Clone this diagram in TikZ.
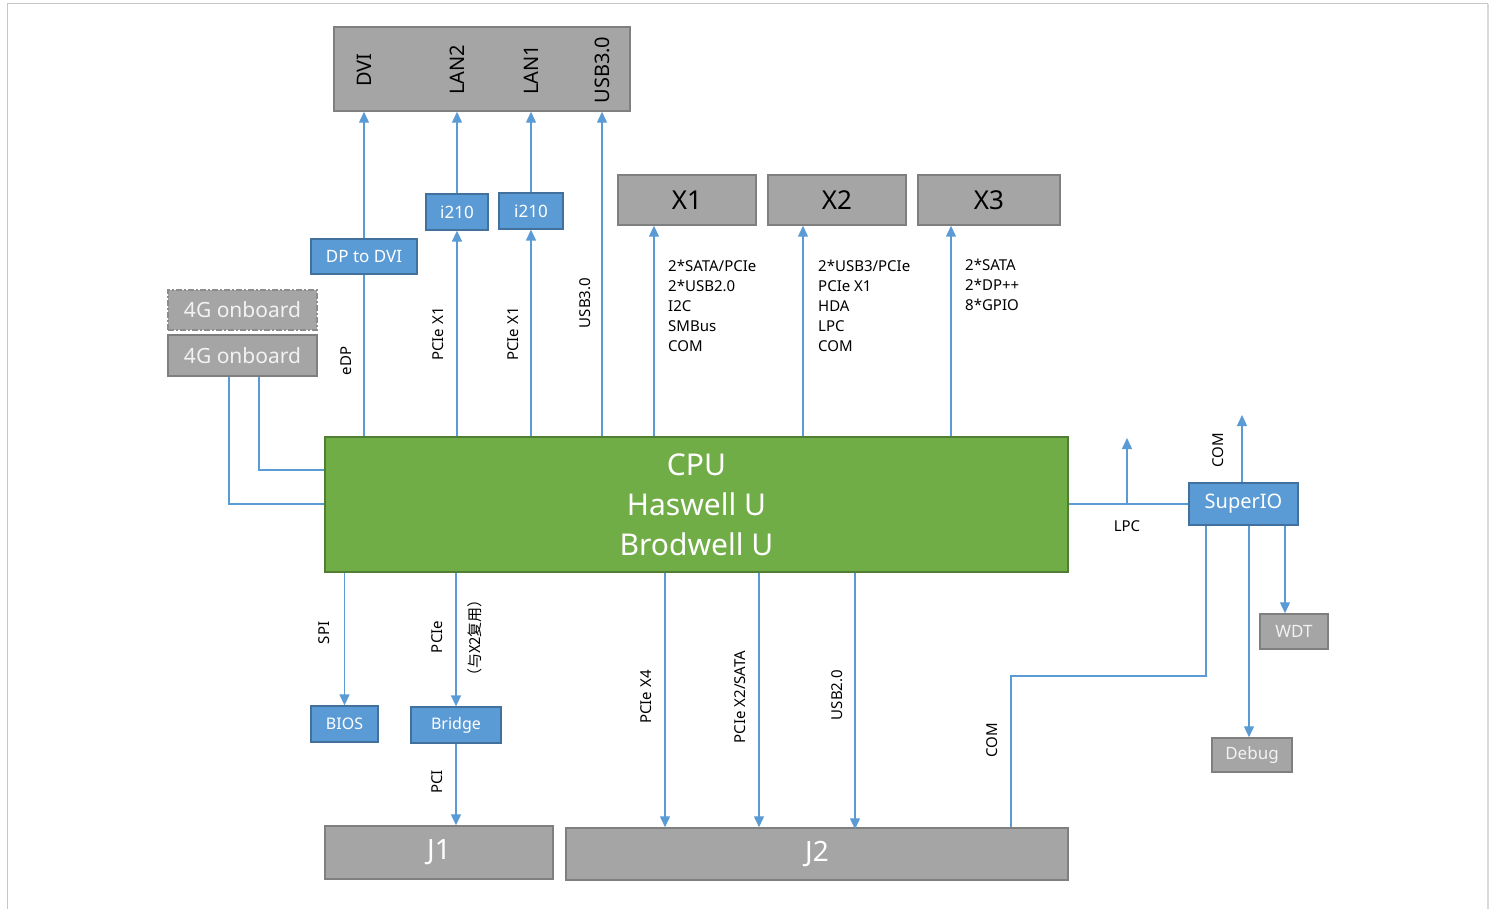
\documentclass[tikz,border=0pt]{standalone}
\usepackage{fontspec}
\setmainfont{Noto Sans}
\newfontfamily\cjk{Noto Sans CJK SC}
\usetikzlibrary{arrows.meta}
\definecolor{lblue}{HTML}{5B9BD5}
\definecolor{dblue}{HTML}{41719C}
\definecolor{gfill}{HTML}{A5A5A5}
\definecolor{gdraw}{HTML}{7F7F7F}
\definecolor{cgreen}{HTML}{70AD47}
\definecolor{dgreen}{HTML}{507E32}
\definecolor{wtext}{HTML}{F2F2F2}
\tikzset{
  gbox/.style={draw=gdraw,fill=gfill,line width=1.5pt,inner sep=0pt},
  bbox/.style={draw=dblue,fill=lblue,line width=1.3pt,inner sep=0pt,text=white,font=\fontsize{17}{20}\selectfont},
  ln/.style={draw=lblue,line width=1.4pt},
  arr/.style={ln,-{Triangle[length=11pt,width=10pt]}},
  vlab/.style={rotate=90,font=\fontsize{15}{18}\selectfont,inner sep=0pt},
  lab/.style={font=\fontsize{15}{20}\selectfont,inner sep=0pt,align=left},
}
\begin{document}
\begin{tikzpicture}[x=1pt,y=-1pt]
\useasboundingbox (0,0) rectangle (1497,909);
% frame
\draw[draw=black!22,line width=1pt] (7,909) -- (7,4) -- (1488,4);
\draw[draw=black!15,line width=2.5pt] (1488,4) -- (1488,909);

% top connector box
\node[gbox,minimum width=296pt,minimum height=84pt] (top) at (482,69) {};
\node[rotate=90,font=\fontsize{20}{24}\selectfont,inner sep=0pt] (tdvi) at (364,70) {DVI};
\node[rotate=90,font=\fontsize{20}{24}\selectfont,inner sep=0pt] (tlan2) at (457,70) {LAN2};
\node[rotate=90,font=\fontsize{20}{24}\selectfont,inner sep=0pt] (tlan1) at (531,70) {LAN1};
\node[rotate=90,font=\fontsize{20}{24}\selectfont,inner sep=0pt] (tusb) at (602,70) {USB3.0};

% CPU
\node[draw=dgreen,fill=cgreen,line width=1.3pt,minimum width=743pt,minimum height=135pt,
      text=white,align=center,font=\fontsize{30}{40}\selectfont] (cpu) at (696.5,504.5)
      {CPU\\Haswell U\\Brodwell U};

% blue boxes
\node[bbox,minimum width=106pt,minimum height=35pt] (dp) at (364,256.5) {DP to DVI};
\node[bbox,minimum width=62pt,minimum height=36pt] (ia) at (457,212) {i210};
\node[bbox,minimum width=64pt,minimum height=36pt] (ib) at (531,211) {i210};
\node[bbox,minimum width=109pt,minimum height=42pt,font=\fontsize{20}{24}\selectfont] (sio) at (1243.5,504) {\raisebox{-2pt}{SuperIO}};
\node[bbox,minimum width=67pt,minimum height=36pt,font=\fontsize{16}{20}\selectfont] (bios) at (344.5,724) {BIOS};
\node[bbox,minimum width=90pt,minimum height=36pt,font=\fontsize{16}{20}\selectfont] (bridge) at (456,725) {Bridge};

% 4G onboard
\node[gbox,dash pattern=on 6pt off 2pt on 2pt off 2pt,draw=black!45,line width=1.3pt,minimum width=149pt,minimum height=40pt,text=wtext,font=\fontsize{21}{24}\selectfont] (g4d) at (242.5,310) {4G onboard};
\node[gbox,minimum width=149pt,minimum height=41pt,text=wtext,font=\fontsize{21}{24}\selectfont] (g4) at (242.5,355.5) {4G onboard};

% X boxes
\node[gbox,minimum width=138pt,minimum height=50pt,font=\fontsize{26}{30}\selectfont] (x1) at (687,200) {X1};
\node[gbox,minimum width=138pt,minimum height=50pt,font=\fontsize{26}{30}\selectfont] (x2) at (837,200) {X2};
\node[gbox,minimum width=142pt,minimum height=50pt,font=\fontsize{26}{30}\selectfont] (x3) at (989,200) {X3};

% small gray boxes
\node[gbox,minimum width=68pt,minimum height=35pt,text=wtext,font=\fontsize{17}{20}\selectfont] (wdt) at (1294,631.5) {WDT};
\node[gbox,minimum width=80pt,minimum height=34pt,text=wtext,font=\fontsize{17}{20}\selectfont] (dbg) at (1252,755) {Debug};

% J boxes
\node[gbox,minimum width=228pt,minimum height=53pt,text=white,font=\fontsize{28}{32}\selectfont] (j1) at (439,852.5) {J1};
\node[gbox,minimum width=502pt,minimum height=52pt,text=white,font=\fontsize{28}{32}\selectfont] (j2) at (817,854) {J2};

% connectors top
\draw[ln] (cpu.north -| dp) -- (dp.south);
\draw[arr] (dp.north) -- (dp.north |- top.south);
\draw[arr] (cpu.north -| ia) -- (ia.south);
\draw[arr] (ia.north) -- (ia.north |- top.south);
\draw[arr] (cpu.north -| ib) -- (ib.south);
\draw[arr] (ib.north) -- (ib.north |- top.south);
\draw[arr] (cpu.north -| tusb) -- (tusb |- top.south);
\draw[arr] (cpu.north -| 654,0) -- (x1.south -| 654,0);
\draw[arr] (cpu.north -| 803,0) -- (x2.south -| 803,0);
\draw[arr] (cpu.north -| 951,0) -- (x3.south -| 951,0);

% 4G lines
\draw[ln] (g4.south -| 229,0) |- (cpu.west |- 0,504);
\draw[ln] (g4.south -| 259,0) |- (cpu.west |- 0,470);

% right side
\coordinate (lpcup) at (1127,438);
\coordinate (comup) at (1242,415);
\draw[ln] (cpu.east |- sio.west) -- (sio.west);
\draw[arr] (lpcup |- sio.west) -- (lpcup);
\draw[arr] (sio.north -| comup) -- (comup);
\draw[arr] (sio.south -| 1285,0) -- (wdt.north -| 1285,0);
\draw[arr] (sio.south -| 1249,0) -- (dbg.north -| 1249,0);
\draw[ln] (sio.south -| 1206,0) -- (1206,676) -- (1011,676) -- (j2.north -| 1011,0);

% bottom
\draw[arr] (cpu.south -| bios) -- (bios.north);
\draw[arr] (cpu.south -| bridge) -- (bridge.north);
\draw[arr] (bridge.south) -- (j1.north -| bridge);
\draw[arr] (cpu.south -| 665,0) -- (j2.north -| 665,0);
\draw[arr] (cpu.south -| 759,0) -- (j2.north -| 759,0);
\draw[arr] (cpu.south -| 855,0) -- ([yshift=-2pt]j2.north -| 855,0);

% labels
\node[vlab] (l1) at (346,361) {eDP};
\node[vlab] (l2) at (438,334) {PCIe X1};
\node[vlab] (l3) at (513,334) {PCIe X1};
\node[vlab] (l4) at (585,303) {USB3.0};
\node[vlab] (l5) at (324,633) {SPI};
\node[vlab] (l6) at (437,637) {PCIe};
\node[vlab,font=\cjk\fontsize{15}{18}\selectfont] (l7) at (475,638) {（与X2复用）};
\node[vlab] (l8) at (437,782) {PCI};
\node[vlab] (l9) at (646,697) {PCIe X4};
\node[vlab] (l10) at (740,697) {PCIe X2/SATA};
\node[vlab] (l11) at (837,695) {USB2.0};
\node[vlab] (l12) at (992,740) {COM};
\node[vlab] (l13) at (1218,450) {COM};
\node[lab] (l14) at (1127,526) {LPC};

\node[lab,anchor=north west] (t1) at (668,260) {2*SATA/PCIe\\2*USB2.0\\I2C\\SMBus\\COM};
\node[lab,anchor=north west] (t2) at (818,260) {2*USB3/PCIe\\PCIe X1\\HDA\\LPC\\COM};
\node[lab,anchor=north west] (t3) at (965,259) {2*SATA\\2*DP++\\8*GPIO};
\end{tikzpicture}
\end{document}
